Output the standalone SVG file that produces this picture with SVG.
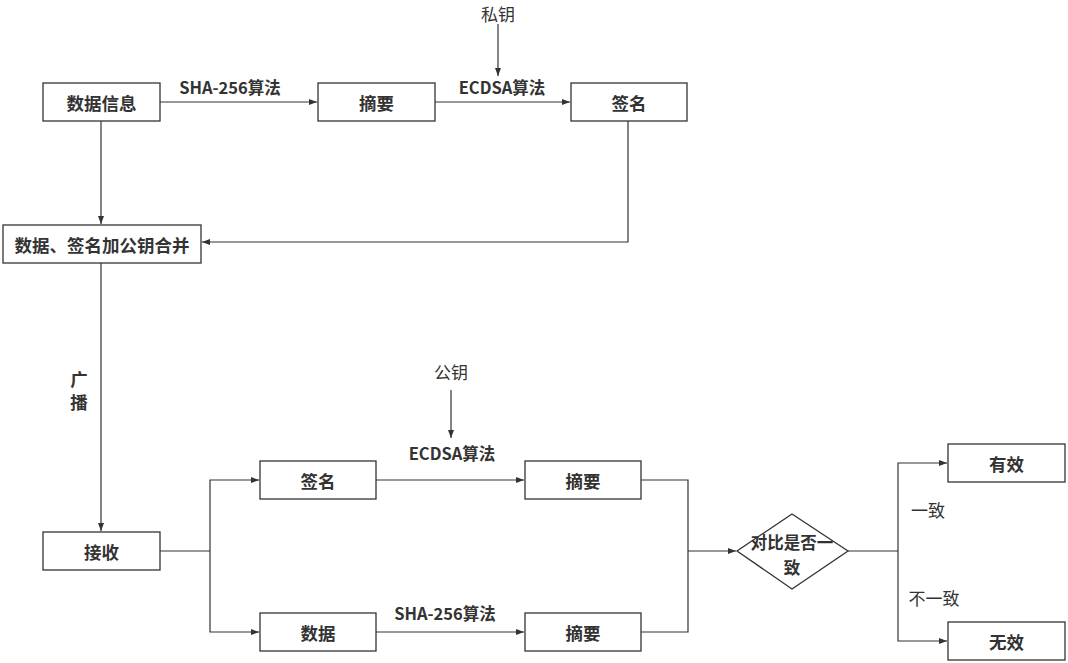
<svg xmlns="http://www.w3.org/2000/svg" width="1068" height="663" viewBox="0 0 1068 663">
<defs>
<marker id="ah" markerWidth="8" markerHeight="6" refX="8" refY="3" orient="auto" markerUnits="userSpaceOnUse">
<path d="M0,0 L8,3 L0,6 Z" fill="#333"/>
</marker>
<style>
.box{fill:#fff;stroke:#333;stroke-width:1.3}
.ln{fill:none;stroke:#333;stroke-width:1.2}
.t{font-family:"Noto Sans CJK SC","Noto Sans",sans-serif;font-size:17.5px;font-weight:bold;fill:#333;text-anchor:middle;dominant-baseline:central}
.d{font-family:"Noto Sans CJK SC","Noto Sans",sans-serif;font-size:16.5px;font-weight:bold;fill:#333;text-anchor:middle}
.n{font-family:"Noto Sans CJK SC","Noto Sans",sans-serif;font-size:17px;fill:#333;text-anchor:middle;dominant-baseline:central}
.lb{font-family:"Noto Sans CJK SC","Noto Sans",sans-serif;font-size:16.5px;font-weight:bold;fill:#333;text-anchor:middle;dominant-baseline:central}
</style>
</defs>
<rect width="1068" height="663" fill="#fff"/>
<g id="connectors">
<path class="ln" d="M160,102 H317" marker-end="url(#ah)"/>
<path class="ln" d="M435,102 H570" marker-end="url(#ah)"/>
<path class="ln" d="M498,24 V76" marker-end="url(#ah)"/>
<path class="ln" d="M101,121 V224" marker-end="url(#ah)"/>
<path class="ln" d="M628,121 V242 H202" marker-end="url(#ah)"/>
<path class="ln" d="M101,263 V531" marker-end="url(#ah)"/>
<path class="ln" d="M160,551 H210"/>
<path class="ln" d="M210,551 V480 H259" marker-end="url(#ah)"/>
<path class="ln" d="M210,551 V632 H259" marker-end="url(#ah)"/>
<path class="ln" d="M376,480 H524" marker-end="url(#ah)"/>
<path class="ln" d="M376,632 H524" marker-end="url(#ah)"/>
<path class="ln" d="M451,390 V438" marker-end="url(#ah)"/>
<path class="ln" d="M641,480 H688 V632 H641"/>
<path class="ln" d="M688,551 H736" marker-end="url(#ah)"/>
<path class="ln" d="M848,551 H898"/>
<path class="ln" d="M898,551 V463 H947" marker-end="url(#ah)"/>
<path class="ln" d="M898,551 V641 H947" marker-end="url(#ah)"/>
</g>
<g id="labels">
<text class="n" x="498" y="13">私钥</text>
<text class="lb" x="230" y="87">SHA-256算法</text>
<text class="lb" x="502" y="87">ECDSA算法</text>
<text class="t" x="79" y="378">广</text>
<text class="t" x="79" y="401">播</text>
<text class="n" x="451" y="371">公钥</text>
<text class="lb" x="452" y="453">ECDSA算法</text>
<text class="lb" x="445" y="613">SHA-256算法</text>
<text class="n" x="928" y="509">一致</text>
<text class="n" x="934" y="597">不一致</text>
</g>
<g id="n-data"><rect class="box" x="43" y="83" width="117" height="38"/><text class="t" x="101.5" y="102">数据信息</text></g>
<g id="n-digest1"><rect class="box" x="318" y="83" width="117" height="38"/><text class="t" x="376.5" y="102">摘要</text></g>
<g id="n-sign1"><rect class="box" x="571" y="83" width="116" height="38"/><text class="t" x="629" y="102">签名</text></g>
<g id="n-merge"><rect class="box" x="3" y="225" width="198" height="38"/><text class="t" x="102" y="244">数据、签名加公钥合并</text></g>
<g id="n-recv"><rect class="box" x="43" y="532" width="117" height="38"/><text class="t" x="101.5" y="551">接收</text></g>
<g id="n-sign2"><rect class="box" x="260" y="461" width="116" height="38"/><text class="t" x="318" y="480">签名</text></g>
<g id="n-digest2"><rect class="box" x="525" y="461" width="116" height="38"/><text class="t" x="583" y="480">摘要</text></g>
<g id="n-data2"><rect class="box" x="260" y="613" width="116" height="38"/><text class="t" x="318" y="632">数据</text></g>
<g id="n-digest3"><rect class="box" x="525" y="613" width="116" height="38"/><text class="t" x="583" y="632">摘要</text></g>
<g id="n-cmp"><path class="box" d="M792,514 L848,551 L792,589 L737,551 Z"/><text class="d" x="792" y="549"><tspan x="792" y="549">对比是否一</tspan><tspan x="792" y="574">致</tspan></text></g>
<g id="n-valid"><rect class="box" x="948" y="444" width="117" height="38"/><text class="t" x="1006.5" y="463">有效</text></g>
<g id="n-invalid"><rect class="box" x="948" y="622" width="117" height="38"/><text class="t" x="1006.5" y="641">无效</text></g>
</svg>
